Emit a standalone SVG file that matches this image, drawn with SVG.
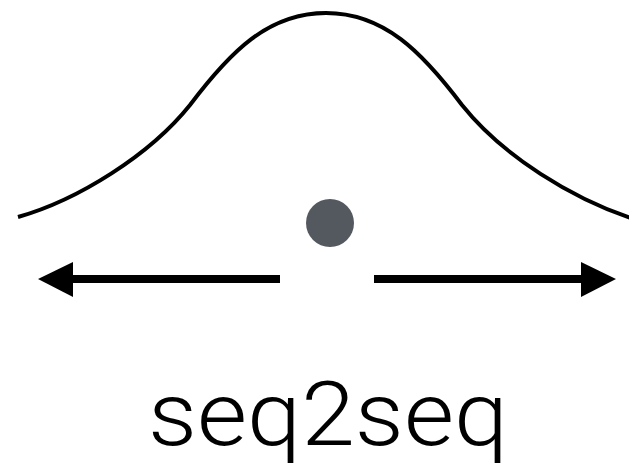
<svg xmlns="http://www.w3.org/2000/svg" width="629" height="466" viewBox="0 0 629 466">
<style>
.curve{fill:none;stroke:#000;stroke-width:4}
.arrow{stroke:#000;stroke-width:8;fill:none}
.head{fill:#000}
.label{font-family:Roboto,"Liberation Sans",sans-serif;font-weight:300;font-size:89px;fill:#000}
</style>
<rect width="629" height="466" fill="#fff"/>
<g id="curve">
<path class="curve" d="M18,217 C78,200 150,155 190,105 C230,52 268,13 326,13 C384,13 422,52 462,105 C502,155 572,200 640,221"/>
</g>
<g id="dot">
<circle cx="330" cy="223" r="24" fill="#54585f"/>
</g>
<g id="connectors">
<line class="arrow" x1="72" y1="279" x2="280" y2="279"/>
<polygon class="head" points="38,279 73,262 73,297"/>
<line class="arrow" x1="374" y1="279" x2="582" y2="279"/>
<polygon class="head" points="616,279 581,262 581,297"/>
</g>
<g id="label">
<text class="label" x="328" y="445" text-anchor="middle" textLength="360" lengthAdjust="spacingAndGlyphs">seq2seq</text>
</g>
</svg>
